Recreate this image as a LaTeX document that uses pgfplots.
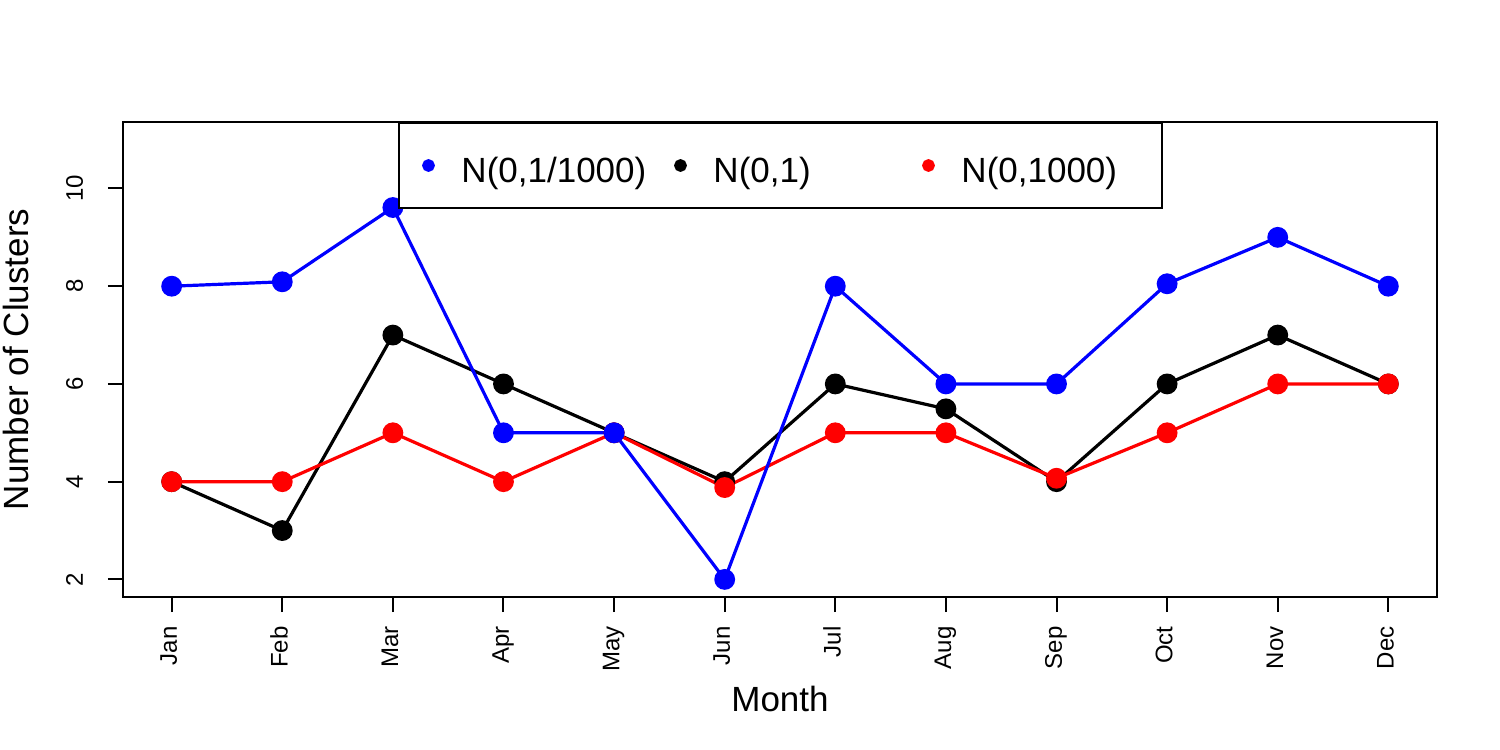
\documentclass[border=0pt]{standalone}
\usepackage{pgfplots}
\pgfplotsset{compat=1.18}
\usepackage{fontspec}
\setmainfont{Liberation Sans}
\begin{document}
\begin{tikzpicture}
\useasboundingbox (0,0) rectangle (750pt,375pt);
\begin{axis}[
  at={(61.5pt,76.5pt)}, anchor=south west,
  scale only axis, width=657pt, height=237.5pt,
  xmin=0.56, xmax=12.44, ymin=1.64, ymax=11.36,
  axis line style={line width=1pt},
  xtick={1,2,3,4,5,6,7,8,9,10,11,12},
  xticklabels={Jan,Feb,Mar,Apr,May,Jun,Jul,Aug,Sep,Oct,Nov,Dec},
  ytick={2,4,6,8,10}, yticklabels={2,4,6,8,10},
  tick align=outside, xtick pos=bottom, ytick pos=left,
  major tick length=7.5pt, tick style={line width=1pt, black},
  xticklabel style={font=\fontsize{12}{14}\selectfont, rotate=90, anchor=mid east, inner sep=7pt},
  yticklabel style={font=\fontsize{12}{14}\selectfont, xshift=-12.5pt, rotate=90, anchor=base},
  xlabel={Month}, ylabel={Number of Clusters},
  label style={font=\fontsize{17.5}{20}\selectfont},
  xlabel style={at={(axis description cs:0.5,-0.2421)}, anchor=base},
  ylabel style={at={(axis description cs:-0.0723,0.5)}, anchor=base},
  legend style={at={(0.5,1)}, anchor=north, draw=black, line width=1pt, fill=white,
    inner sep=0pt, column sep=0pt, nodes={inner sep=0pt},
    font=\fontsize{17.5}{20}\selectfont},
  legend columns=3,
  legend image code/.code={\path[draw=none,fill=none] (-15pt,-15.25pt) rectangle (16.5pt,27.25pt); \fill (0pt,6pt) circle (2.7pt);},
]
\addlegendimage{blue}
\addlegendentry{\makebox[94.5pt][l]{\raisebox{6.5pt}{N(0,1/1000)}}}
\addlegendimage{black}
\addlegendentry{\makebox[92.5pt][l]{\raisebox{6.5pt}{N(0,1)}}}
\addlegendimage{red}
\addlegendentry{\makebox[100pt][l]{\raisebox{6.5pt}{N(0,1000)}}}

\addplot[black, line width=1.6pt, mark=*, mark size=4.4pt, mark options={draw=none, fill=black}, forget plot]
coordinates {(1,4) (2,3) (3,7) (4,6) (5,5) (6,4) (7,6) (8,5.49) (9,4) (10,6) (11,7) (12,6)};
\addplot[red, line width=1.6pt, mark=*, mark size=4.4pt, mark options={draw=none, fill=red}, forget plot]
coordinates {(1,4) (2,4) (3,5) (4,4) (5,5) (6,3.88) (7,5) (8,5) (9,4.07) (10,5) (11,6) (12,6)};
\addplot[blue, line width=1.6pt, mark=*, mark size=4.4pt, mark options={draw=none, fill=blue}, forget plot]
coordinates {(1,8) (2,8.09) (3,9.61) (4,5) (5,5) (6,2) (7,8) (8,6) (9,6) (10,8.05) (11,9) (12,8)};
\end{axis}
\end{tikzpicture}
\end{document}
